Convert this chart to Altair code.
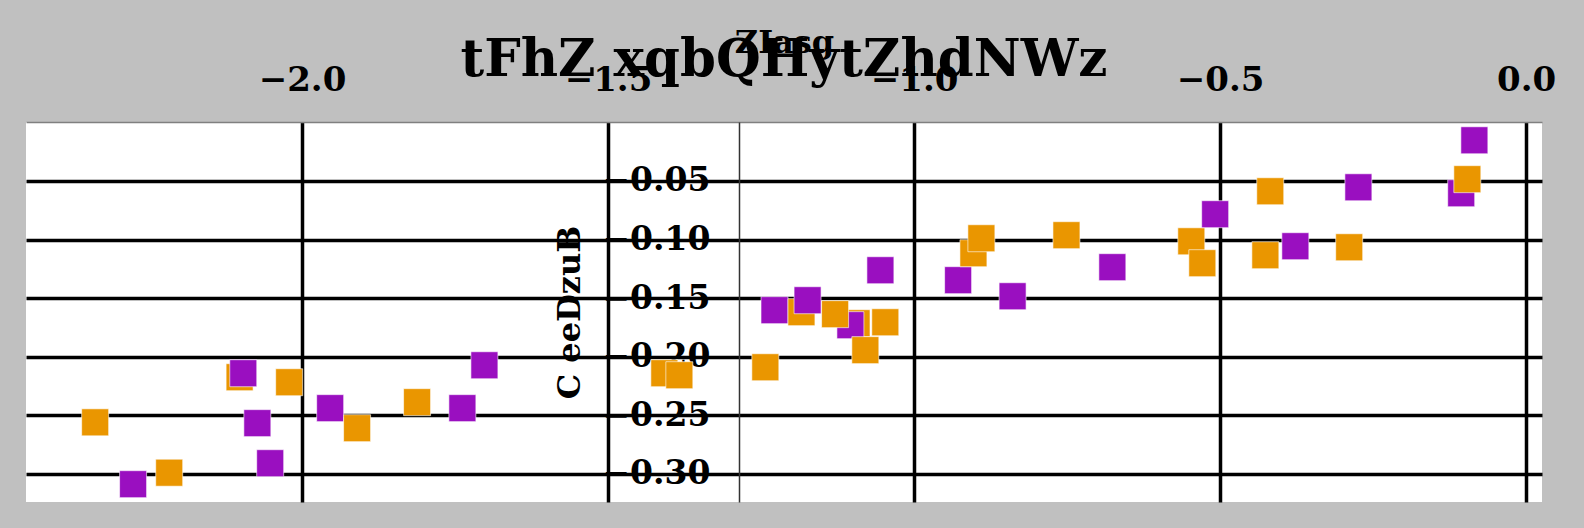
import altair as alt
import pandas as pd

# Points in drawing order (later points are drawn on top)
x_vals = [-2.338, -2.276, -2.217, -2.102, -2.096, -2.073, -2.052, -2.021, -1.954,
          -1.910, -1.812, -1.738, -1.702, -1.408, -1.3835, -1.243, -1.228, -1.184,
          -1.174, -1.094, -1.104, -1.129, -1.0796, -1.055, -1.047, -0.928, -0.903,
          -0.890, -0.839, -0.751, -0.676, -0.547, -0.529, -0.508, -0.426, -0.418,
          -0.377, -0.289, -0.274, -0.106, -0.096, -0.0845]
y_vals = [-0.256, -0.3088, -0.299, -0.2175, -0.2141, -0.2567, -0.2909, -0.2218, -0.2439,
          -0.261, -0.2388, -0.2439, -0.2073, -0.2141, -0.2158, -0.209, -0.1603, -0.162,
          -0.1518, -0.1714, -0.1731, -0.1637, -0.1944, -0.1262, -0.1706, -0.1347, -0.1117,
          -0.0989, -0.1484, -0.0963, -0.1236, -0.1015, -0.1202, -0.0784, -0.1134, -0.0588,
          -0.1057, -0.1066, -0.0554, -0.0605, -0.0485, -0.0153]
groups = ["A", "B", "A", "A", "B", "B", "B", "A", "B",
          "A", "A", "B", "B", "A", "A", "A", "B", "A",
          "B", "A", "B", "A", "A", "B", "A", "B", "A",
          "A", "B", "A", "B", "A", "A", "B", "A", "A",
          "B", "A", "B", "B", "A", "B"]

series_names = ["A", "B"]
series_colors = ["#EA9600", "#9A0FC0"]
x_ticks = [-2.0, -1.5, -1.0, -0.5, 0.0]
y_ticks = [-0.30, -0.25, -0.20, -0.15, -0.10, -0.05]

df = pd.DataFrame({"x": x_vals, "y": y_vals, "g": groups, "order": list(range(len(x_vals)))})

FONT = "DejaVu Serif"

chart = alt.Chart(df).mark_square(size=729, opacity=1, stroke="white",
                                   strokeWidth=1, strokeOpacity=0.6).encode(
    x=alt.X("x:Q", title="ZIasg",
            scale=alt.Scale(domain=[-2.451, 0.026], nice=False, zero=False),
            axis=alt.Axis(orient="top", values=x_ticks, format=".1f",
                          ticks=False, tickSize=0, labelPadding=25,
                          labelFont=FONT, labelFontSize=34, labelFontWeight="bold",
                          labelColor="black",
                          titleFont=FONT, titleFontSize=32, titleFontWeight="bold",
                          titleColor="black", titlePadding=4,
                          domainColor="#808080", domainWidth=1.5,
                          grid=True, gridColor="black", gridWidth=3.5, gridOpacity=1)),
    y=alt.Y("y:Q", title="C eeDzuB",
            scale=alt.Scale(domain=[-0.324, 0.0003], nice=False, zero=False),
            axis=alt.Axis(orient="left", values=y_ticks, format=".2f", offset=-713,
                          ticks=False, tickSize=0, labelPadding=29,
                          labelFont=FONT, labelFontSize=33, labelFontWeight="bold",
                          labelColor="black",
                          titleFont=FONT, titleFontSize=32, titleFontWeight="bold",
                          titleColor="black", titlePadding=15,
                          domainColor="#333333", domainWidth=1.5,
                          grid=True, gridColor="black", gridWidth=3.5, gridOpacity=1)),
    color=alt.Color("g:N", scale=alt.Scale(domain=series_names, range=series_colors),
                    legend=None),
    order=alt.Order("order:Q"),
).properties(
    width=1516,
    height=380,
    title=alt.TitleParams("tFhZ xqbQHytZhdNWz", font=FONT, fontSize=51.4,
                          fontWeight="bold", color="black", anchor="middle",
                          offset=-60),
    background="#c0c0c0",
    padding={"left": 26, "top": 122, "right": 42, "bottom": 26},
    autosize=alt.AutoSizeParams(type="none"),
).configure_view(fill="white", strokeWidth=0)

chart.save("out.html", embed_options={"renderer": "svg", "actions": False})
